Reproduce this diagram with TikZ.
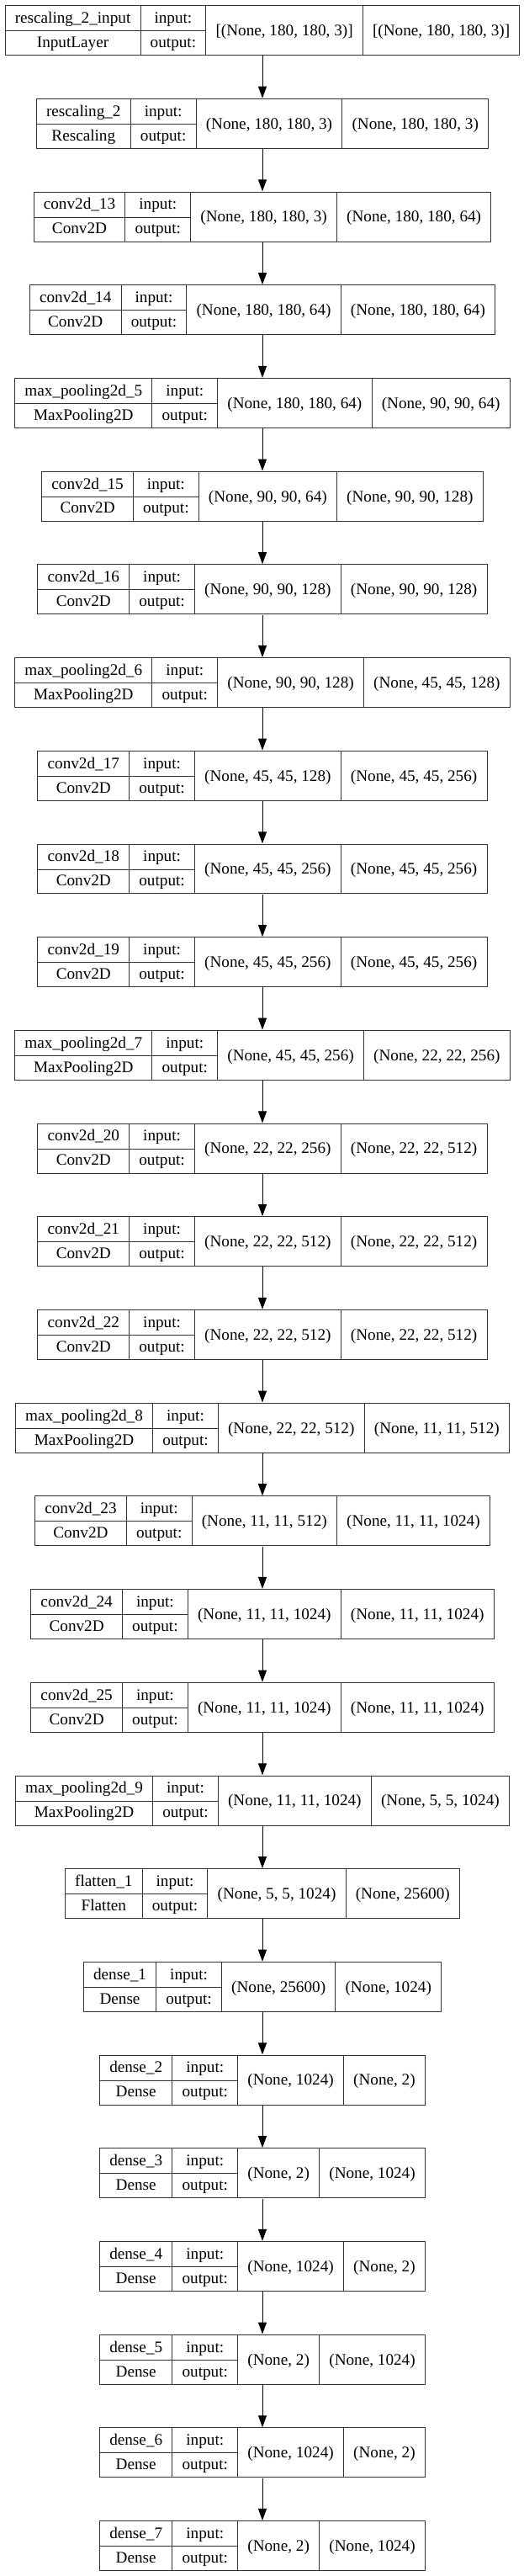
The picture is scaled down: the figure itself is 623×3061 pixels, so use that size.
\documentclass[tikz,border=0pt]{standalone}
\usepackage{fontspec}
\setmainfont{Liberation Serif}
\usepackage{array}
\usetikzlibrary{arrows.meta}
\newcolumntype{C}{>{\color{black}}c}
\newcommand{\shapecell}[1]{\raisebox{-15pt}[0pt][0pt]{#1}}
\setlength{\tabcolsep}{11.2pt}
\setlength{\arrayrulewidth}{1pt}
\renewcommand{\arraystretch}{1.26}
\begin{document}
\begin{tikzpicture}
[x=1pt,y=-1pt,%
  layerdecorate/.style={inner sep=0pt,font=\fontsize{19.2}{23}\selectfont},%
  linedecorate/.style={-{Triangle[length=14pt,width=10pt]},line width=1pt}]
\useasboundingbox (0,0) rectangle (623,3061);
%% layers
\foreach \lname/\lclass/\inshape/\outshape [count=\i] in {
  rescaling\_2\_input/InputLayer/{[(None, 180, 180, 3)]}/{[(None, 180, 180, 3)]},
  rescaling\_2/Rescaling/{(None, 180, 180, 3)}/{(None, 180, 180, 3)},
  conv2d\_13/Conv2D/{(None, 180, 180, 3)}/{(None, 180, 180, 64)},
  conv2d\_14/Conv2D/{(None, 180, 180, 64)}/{(None, 180, 180, 64)},
  max\_pooling2d\_5/MaxPooling2D/{(None, 180, 180, 64)}/{(None, 90, 90, 64)},
  conv2d\_15/Conv2D/{(None, 90, 90, 64)}/{(None, 90, 90, 128)},
  conv2d\_16/Conv2D/{(None, 90, 90, 128)}/{(None, 90, 90, 128)},
  max\_pooling2d\_6/MaxPooling2D/{(None, 90, 90, 128)}/{(None, 45, 45, 128)},
  conv2d\_17/Conv2D/{(None, 45, 45, 128)}/{(None, 45, 45, 256)},
  conv2d\_18/Conv2D/{(None, 45, 45, 256)}/{(None, 45, 45, 256)},
  conv2d\_19/Conv2D/{(None, 45, 45, 256)}/{(None, 45, 45, 256)},
  max\_pooling2d\_7/MaxPooling2D/{(None, 45, 45, 256)}/{(None, 22, 22, 256)},
  conv2d\_20/Conv2D/{(None, 22, 22, 256)}/{(None, 22, 22, 512)},
  conv2d\_21/Conv2D/{(None, 22, 22, 512)}/{(None, 22, 22, 512)},
  conv2d\_22/Conv2D/{(None, 22, 22, 512)}/{(None, 22, 22, 512)},
  max\_pooling2d\_8/MaxPooling2D/{(None, 22, 22, 512)}/{(None, 11, 11, 512)},
  conv2d\_23/Conv2D/{(None, 11, 11, 512)}/{(None, 11, 11, 1024)},
  conv2d\_24/Conv2D/{(None, 11, 11, 1024)}/{(None, 11, 11, 1024)},
  conv2d\_25/Conv2D/{(None, 11, 11, 1024)}/{(None, 11, 11, 1024)},
  max\_pooling2d\_9/MaxPooling2D/{(None, 11, 11, 1024)}/{(None, 5, 5, 1024)},
  flatten\_1/Flatten/{(None, 5, 5, 1024)}/{(None, 25600)},
  dense\_1/Dense/{(None, 25600)}/{(None, 1024)},
  dense\_2/Dense/{(None, 1024)}/{(None, 2)},
  dense\_3/Dense/{(None, 2)}/{(None, 1024)},
  dense\_4/Dense/{(None, 1024)}/{(None, 2)},
  dense\_5/Dense/{(None, 2)}/{(None, 1024)},
  dense\_6/Dense/{(None, 1024)}/{(None, 2)},
  dense\_7/Dense/{(None, 2)}/{(None, 1024)}} {
  \node (l\i) at (312,{36.2+110.7*(\i-1)}) [layerdecorate]
    {\color{black!80}\begin{tabular}{|C|C|C|C|}\hline
      \lname & input: & \shapecell{\inshape} & \shapecell{\outshape}\\ \cline{1-2}
      \lclass & output: & & \\ \hline
    \end{tabular}};
}
%% arrows
\path
\foreach \startnode [evaluate=\startnode as \endnode using int(\startnode+1)] in {1,...,27} {
  (l\startnode) edge[linedecorate] (l\endnode)
};
\end{tikzpicture}
\end{document}
